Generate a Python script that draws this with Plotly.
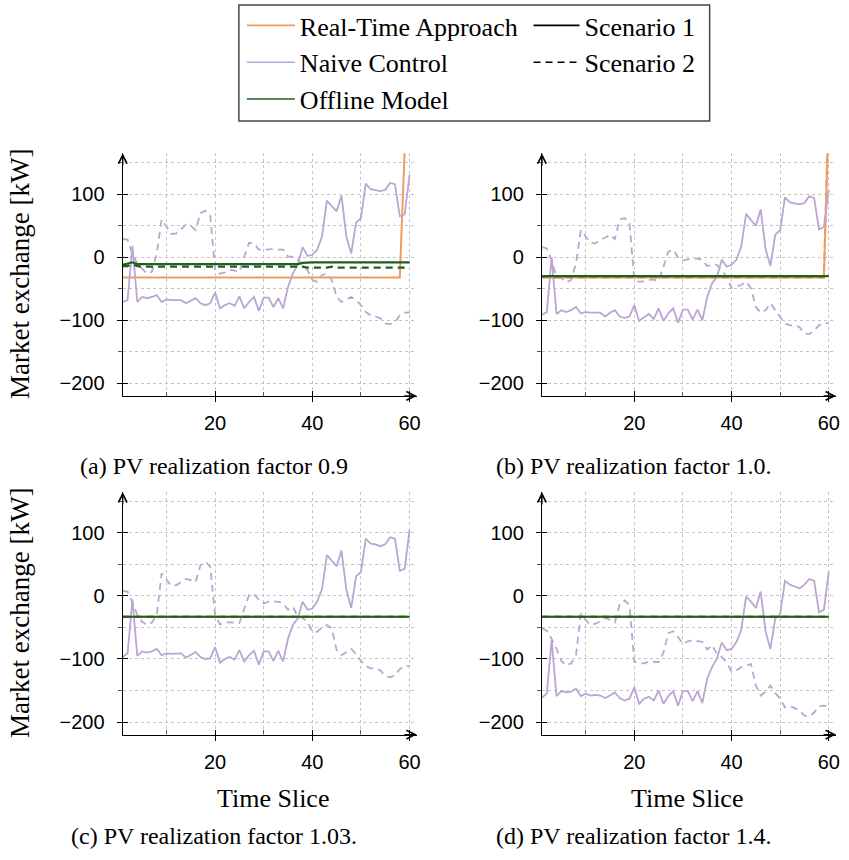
import plotly.graph_objects as go

# ---------------- data ----------------
t = list(range(1, 61))

# (a) PV realization factor 0.9
naive_s1_a = [-71, -68, 18, -71, -63, -65, -63, -60, -71, -67,
              -68, -68, -68, -73, -69, -65, -73, -76, -73, -56,
              -81, -76, -73, -77, -62, -81, -71, -63, -85, -64,
              -64, -79, -65, -81, -47, -26, -12, 16, 2, 4,
              12, 33, 90, 81, 73, 98, 33, 6, 55, 62,
              117, 108, 107, 105, 107, 118, 116, 65, 68, 131]
naive_s2_a = [29, 28, 5, -10, -18, -26, -23, 6, 60, 48,
              37, 38, 44, 52, 50, 43, 70, 74, 66, -20,
              -26, -24, -20, -21, -23, 1, 23, 22, 12, 12,
              13, 13, 12, 12, 1, 1, -4, -12, -20, -36,
              -39, -28, -26, -36, -63, -71, -67, -63, -68, -76,
              -87, -92, -94, -97, -105, -106, -103, -92, -88, -88]
rt_s1_a = [-32] * 58 + [170, 420]
off_s1_a = [-12, -10, -8] + [-11] * 34 + [-9] + [-8] * 22
off_s2_a = [-14, -14, -11, -14] + [-15] * 34 + [-16.5] * 5 + [-15] + [-16.5] * 16

# (b) PV realization factor 1.0
naive_s1_b = [-91, -87, 0, -90, -84, -87, -84, -79, -89, -87,
              -88, -88, -88, -94, -88, -84, -94, -96, -94, -76,
              -101, -95, -90, -98, -81, -101, -89, -81, -104, -83,
              -83, -99, -83, -100, -63, -41, -31, -4, -15, -12,
              -4, 17, 69, 59, 50, 76, 13, -14, 36, 43,
              95, 87, 86, 84, 86, 97, 94, 44, 48, 107]
naive_s2_b = [16, 14, -5, -31, -33, -40, -36, -10, 43, 33,
              23, 22, 28, 31, 36, 29, 60, 62, 55, -36,
              -39, -38, -36, -36, -37, -15, 9, 12, 0, -5,
              -3, -2, -2, -4, -14, -12, -12, -21, -30, -49,
              -47, -44, -39, -49, -79, -88, -84, -73, -84, -95,
              -105, -108, -108, -111, -121, -122, -116, -108, -104, -105]
rt_s1_b = [-32] * 59 + [230]
rt_s2_b = [-32] * 59 + [260]
off_s1_b = [-30] * 60
off_s2_b = [-30] * 60

# (c) PV realization factor 1.03
naive_s1_c = [-97, -91, -6, -95, -88, -90, -88, -84, -94, -91,
              -92, -92, -91, -98, -93, -89, -97, -100, -99, -81,
              -106, -100, -97, -101, -86, -104, -94, -87, -109, -88,
              -88, -103, -87, -104, -68, -46, -36, -9, -22, -20,
              -9, 11, 65, 56, 47, 72, 10, -19, 31, 38,
              91, 83, 82, 79, 82, 93, 91, 40, 43, 105]
naive_s2_c = [8, 7, -10, -30, -41, -46, -42, -30, 36, 26,
              16, 17, 22, 27, 25, 22, 49, 54, 47, -30,
              -45, -42, -42, -42, -43, -20, 2, 3, -6, -12,
              -9, -9, -9, -12, -22, -17, -33, -35, -41, -57,
              -57, -50, -46, -51, -86, -94, -89, -84, -92, -103,
              -111, -115, -115, -118, -127, -129, -126, -116, -111, -111]
rt_s1_c = [-33] * 60
off_s1_c = [-33] * 60
off_s2_c = [-33] * 60

# (d) PV realization factor 1.4
naive_s1_d = [-161, -155, -70, -159, -151, -153, -152, -147, -159, -155,
              -158, -157, -158, -162, -158, -153, -162, -166, -163, -145,
              -171, -163, -160, -166, -150, -171, -159, -151, -174, -151,
              -151, -167, -151, -170, -131, -113, -99, -74, -86, -84,
              -73, -54, -1, -9, -19, 7, -56, -84, -36, -29,
              24, 18, 15, 12, 18, 27, 24, -26, -22, 38]
naive_s2_d = [-51, -55, -68, -84, -103, -110, -107, -94, -28, -38,
              -46, -44, -40, -35, -38, -42, -13, -7, -15, -104,
              -107, -107, -104, -105, -105, -90, -59, -56, -65, -76,
              -72, -70, -72, -73, -85, -78, -92, -97, -105, -120,
              -118, -113, -110, -108, -142, -158, -152, -142, -154, -163,
              -177, -175, -178, -182, -190, -191, -185, -175, -174, -176]
rt_s1_d = [-33] * 60
off_s1_d = [-33] * 60
off_s2_d = [-33] * 60

captions = ["(a) PV realization factor 0.9", "(b) PV realization factor 1.0.",
            "(c) PV realization factor 1.03.", "(d) PV realization factor 1.4."]
x_tickvals = [20, 40, 60]
x_minorvals = [10, 30, 50]
y_tickvals = [-200, -100, 0, 100]
y_ticktext = ["\u2212200", "\u2212100", "0", "100"]
y_minorvals = [-150, -50, 50, 150]
x_range = [1, 61.5]
y_range = [-220, 165]

# ---------------- style ----------------
ORANGE = "#F39B5B"
PURPLE = "#BBA5D3"
GREEN = "#1F5F1F"
SERIF = "Liberation Serif"
SANS = "Liberation Sans"
DASH = "7px,5px"

W, H = 849, 860
fig = go.Figure()

panels = [
    dict(rt=[(rt_s1_a, "solid")], n1=naive_s1_a, n2=naive_s2_a, o1=off_s1_a, o2=off_s2_a),
    dict(rt=[(rt_s1_b, "solid"), (rt_s2_b, DASH)], n1=naive_s1_b, n2=naive_s2_b, o1=off_s1_b, o2=off_s2_b),
    dict(rt=[(rt_s1_c, "solid")], n1=naive_s1_c, n2=naive_s2_c, o1=off_s1_c, o2=off_s2_c),
    dict(rt=[(rt_s1_d, "solid")], n1=naive_s1_d, n2=naive_s2_d, o1=off_s1_d, o2=off_s2_d),
]

for i, p in enumerate(panels, start=1):
    xa = "x" if i == 1 else f"x{i}"
    ya = "y" if i == 1 else f"y{i}"
    for vals, dash in p["rt"]:
        fig.add_trace(go.Scatter(x=t, y=vals, mode="lines", xaxis=xa, yaxis=ya,
                                 line=dict(color=ORANGE, width=2, dash=dash), showlegend=False))
    fig.add_trace(go.Scatter(x=t, y=p["n1"], mode="lines", xaxis=xa, yaxis=ya,
                             line=dict(color=PURPLE, width=1.8), showlegend=False))
    fig.add_trace(go.Scatter(x=t, y=p["n2"], mode="lines", xaxis=xa, yaxis=ya,
                             line=dict(color=PURPLE, width=1.8, dash=DASH), showlegend=False))
    fig.add_trace(go.Scatter(x=t, y=p["o1"], mode="lines", xaxis=xa, yaxis=ya,
                             line=dict(color=GREEN, width=2.2), showlegend=False))
    fig.add_trace(go.Scatter(x=t, y=p["o2"], mode="lines", xaxis=xa, yaxis=ya,
                             line=dict(color=GREEN, width=2.2, dash=DASH), showlegend=False))
    # dummy trace for overlay axes (inner halves of major ticks)
    fig.add_trace(go.Scatter(x=[None], y=[None], mode="lines", xaxis=f"x{i+4}", yaxis=f"y{i+4}",
                             showlegend=False, hoverinfo="skip"))

# legend entries
legend_items = [("Real-Time Approach", ORANGE, "solid", "legend"),
                ("Naive Control", PURPLE, "solid", "legend"),
                ("Offline Model", GREEN, "solid", "legend"),
                ("Scenario 1", "black", "solid", "legend2"),
                ("Scenario 2", "black", DASH, "legend2")]
for name, col, dash, lg in legend_items:
    fig.add_trace(go.Scatter(x=[None], y=[None], mode="lines", name=name, legend=lg,
                             line=dict(color=col, width=1.6, dash=dash), xaxis="x", yaxis="y"))

xdom_left = [123.3 / W, 418.8 / W]
xdom_right = [544.5 / W, 840.0 / W]
ydom_top = [(H - 395.9) / H, (H - 153.3) / H]
ydom_bot = [(H - 734.6) / H, (H - 492.0) / H]
doms = [(xdom_left, ydom_top), (xdom_right, ydom_top), (xdom_left, ydom_bot), (xdom_right, ydom_bot)]

grid = dict(showgrid=True, gridcolor="#c4c4c4", gridwidth=1, griddash="dot")
layout_axes = {}
for i, (xd, yd) in enumerate(doms, start=1):
    ya = "y" if i == 1 else f"y{i}"
    xa = "x" if i == 1 else f"x{i}"
    layout_axes[f"xaxis{i}"] = dict(
        domain=xd, range=x_range, anchor=ya, tickmode="array", tickvals=x_tickvals,
        ticks="outside", ticklen=5, tickwidth=1.3, tickcolor="black",
        showline=True, linecolor="black", linewidth=1.3, zeroline=False,
        tickfont=dict(family=SANS, size=20, color="black"), ticklabelstandoff=4,
        minor=dict(tickmode="array", tickvals=x_minorvals, ticks="inside", ticklen=4,
                   tickcolor="#555", **grid),
        fixedrange=True, **grid)
    layout_axes[f"yaxis{i}"] = dict(
        domain=yd, range=y_range, anchor=xa, tickmode="array", tickvals=y_tickvals,
        ticktext=y_ticktext, ticks="outside", ticklen=5, tickwidth=1.3, tickcolor="black",
        showline=True, linecolor="black", linewidth=1.3, zeroline=False,
        tickfont=dict(family=SANS, size=20, color="black"), ticklabelstandoff=8,
        minor=dict(tickmode="array", tickvals=y_minorvals, ticks="outside", ticklen=4,
                   tickcolor="#555", **grid),
        fixedrange=True, **grid)
    layout_axes[f"xaxis{i+4}"] = dict(
        overlaying=xa, range=x_range, anchor=ya, tickmode="array", tickvals=x_tickvals,
        ticks="inside", ticklen=5, tickwidth=1.3, tickcolor="black", showticklabels=False,
        showgrid=False, showline=False, zeroline=False, fixedrange=True)
    layout_axes[f"yaxis{i+4}"] = dict(
        overlaying=ya, range=y_range, anchor=xa, tickmode="array", tickvals=y_tickvals,
        ticks="inside", ticklen=5, tickwidth=1.3, tickcolor="black", showticklabels=False,
        showgrid=False, showline=False, zeroline=False, fixedrange=True)

annotations = []
# axis arrows
for i in range(1, 5):
    xa = "x" if i == 1 else f"x{i}"
    ya = "y" if i == 1 else f"y{i}"
    annotations.append(dict(x=x_range[0], y=y_range[1], xref=xa, yref=ya, ax=0, ay=14,
                            showarrow=True, arrowhead=5, arrowsize=1.3, arrowwidth=1.3,
                            arrowcolor="black", text=""))
    annotations.append(dict(x=x_range[1], y=y_range[0], xref=xa, yref=ya, ax=-14, ay=0,
                            showarrow=True, arrowhead=5, arrowsize=1.3, arrowwidth=1.3,
                            arrowcolor="black", text=""))

cap_pos = [(215, 466), (637, 466), (215, 836), (637, 836)]
for txt, (cx, cy) in zip(captions, cap_pos):
    annotations.append(dict(x=cx / W, y=(H - cy) / H, xref="paper", yref="paper", text=txt,
                            showarrow=False, xanchor="center", yanchor="middle",
                            font=dict(family=SERIF, size=24, color="black")))
for cy in (274, 613):
    annotations.append(dict(x=20 / W, y=(H - cy) / H, xref="paper", yref="paper",
                            text="Market exchange [kW]", textangle=-90, showarrow=False,
                            xanchor="center", yanchor="middle",
                            font=dict(family=SERIF, size=27, color="black")))
for cx in (274, 690):
    annotations.append(dict(x=cx / W, y=(H - 798) / H, xref="paper", yref="paper",
                            text="Time Slice", showarrow=False, xanchor="center", yanchor="middle",
                            font=dict(family=SERIF, size=26, color="black")))

fig.update_layout(
    width=W, height=H, margin=dict(l=0, r=0, t=0, b=0),
    paper_bgcolor="white", plot_bgcolor="white",
    annotations=annotations,
    shapes=[dict(type="rect", xref="paper", yref="paper", x0=240 / W, x1=713 / W,
                 y0=(H - 121) / H, y1=(H - 5) / H, line=dict(color="#444", width=1.5))],
    legend=dict(x=243 / W, y=(H - 2) / H, xanchor="left", yanchor="top",
                bgcolor="rgba(0,0,0,0)", font=dict(family=SERIF, size=26, color="black"),
                itemwidth=48, tracegroupgap=0),
    legend2=dict(x=531 / W, y=(H - 2) / H, xanchor="left", yanchor="top",
                 bgcolor="rgba(0,0,0,0)", font=dict(family=SERIF, size=26, color="black"),
                 itemwidth=46, tracegroupgap=0),
    showlegend=True,
    **layout_axes,
)

fig.write_html("out.html")
